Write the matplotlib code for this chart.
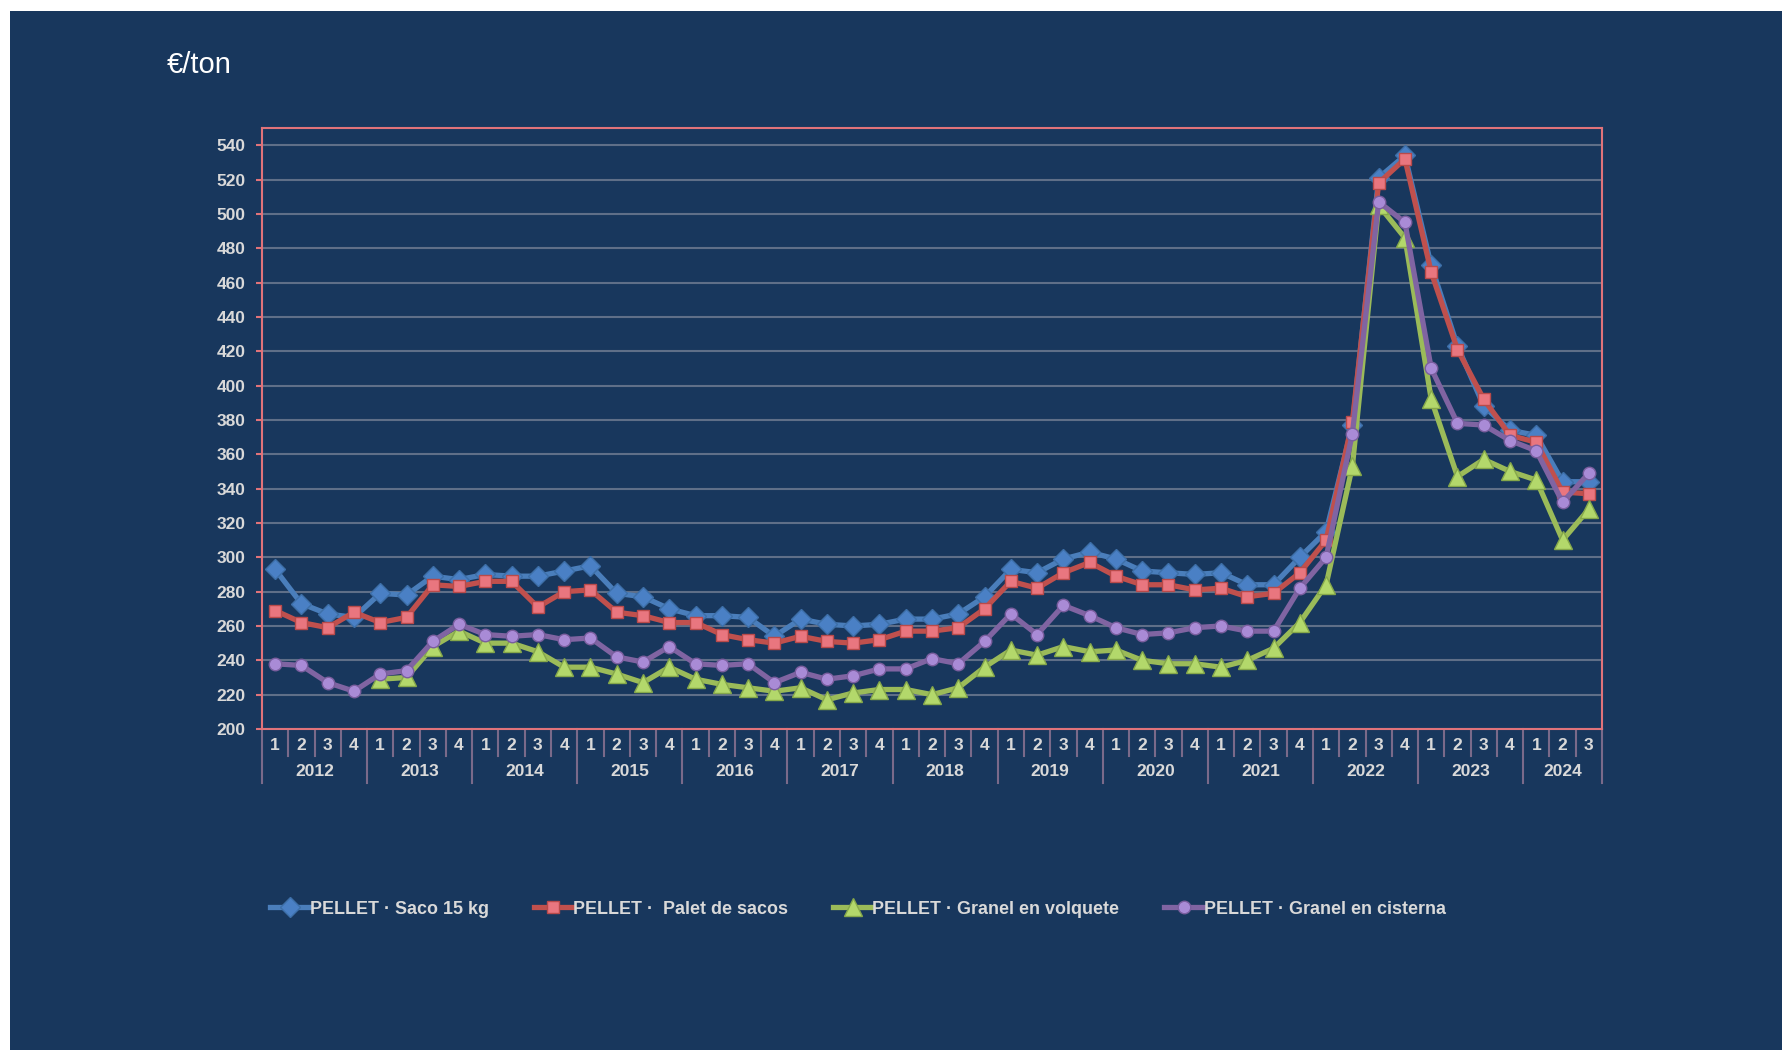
import numpy as np
import matplotlib
matplotlib.use("Agg")
import matplotlib.pyplot as plt
from matplotlib.patches import Rectangle
from matplotlib.transforms import blended_transform_factory

# quarterly pellet prices, 2012 Q1 .. 2024 Q3
years = ["2012", "2013", "2014", "2015", "2016", "2017", "2018",
         "2019", "2020", "2021", "2022", "2023", "2024"]
quarters = ["1", "2", "3", "4"] * 12 + ["1", "2", "3"]

saco = [293, 273, 267, 265,
        279, 278, 289, 287,
        290, 289, 289, 292,
        295, 279, 277, 270,
        266, 266, 265, 254,
        264, 261, 260, 261,
        264, 264, 267, 277,
        293, 291, 299, 303,
        299, 292, 291, 290,
        291, 284, 284, 300,
        315, 377, 521, 534,
        470, 423, 388, 374,
        371, 344, 344]

palet = [269, 262, 259, 268,
         262, 265, 284, 283,
         286, 286, 271, 280,
         281, 268, 266, 262,
         262, 255, 252, 250,
         254, 251, 250, 252,
         257, 257, 259, 270,
         286, 282, 291, 297,
         289, 284, 284, 281,
         282, 277, 279, 291,
         310, 379, 518, 532,
         466, 421, 392, 371,
         367, 338, 337]

volquete = [np.nan, np.nan, np.nan, np.nan,
            229, 230, 248, 257,
            250, 250, 245, 236,
            236, 232, 227, 236,
            229, 226, 224, 222,
            224, 217, 221, 223,
            223, 220, 224, 236,
            246, 243, 248, 245,
            246, 240, 238, 238,
            236, 240, 247, 262,
            284, 353, 505, 486,
            392, 347, 357, 350,
            345, 310, 328]

cisterna = [238, 237, 227, 222,
            232, 234, 251, 261,
            255, 254, 255, 252,
            253, 242, 239, 248,
            238, 237, 238, 227,
            233, 229, 231, 235,
            235, 241, 238, 251,
            267, 255, 272, 266,
            259, 255, 256, 259,
            260, 257, 257, 282,
            300, 372, 507, 495,
            410, 378, 377, 368,
            362, 332, 349]

labels = ["PELLET \u00b7 Saco 15 kg", "PELLET \u00b7  Palet de sacos",
          "PELLET \u00b7 Granel en volquete", "PELLET \u00b7 Granel en cisterna"]

NAVY = "#18375d"
PINK = "#e0737a"
GRID = "#5f6f88"
TXT = "#d9d9d9"
SEP = "#7a6a8a"

plt.rcParams["font.family"] = ["Liberation Sans", "DejaVu Sans"]

fig = plt.figure(figsize=(17.82, 10.5), dpi=100)
fig.patch.set_facecolor("white")
# navy panel, leaves a thin white strip at top and left
fig.add_artist(Rectangle((10 / 1782, 0), 1, 1 - 11 / 1050, transform=fig.transFigure,
                         facecolor=NAVY, edgecolor="none", zorder=-10))

ax = fig.add_axes([262 / 1782, 1 - 729 / 1050, (1602 - 262) / 1782, (729 - 128) / 1050])
ax.set_facecolor(NAVY)

x = np.arange(len(saco))

ax.plot(x, saco, color="#4a7ebb", lw=3.8, marker="D", ms=10.5,
        mfc="#4a80c5", mec="#3d6fa8", mew=1, label=labels[0], zorder=3)
ax.plot(x, palet, color="#c0504d", lw=3.8, marker="s", ms=8,
        mfc="#e9767f", mec="#b94a4a", mew=1, label=labels[1], zorder=4)
ax.plot(x, volquete, color="#9bbb59", lw=3.8, marker="^", ms=13,
        mfc="#b3d86b", mec="#86a84a", mew=1, label=labels[2], zorder=5)
ax.plot(x, cisterna, color="#8064a2", lw=3.8, marker="o", ms=9,
        mfc="#a98bd6", mec="#7a5e9e", mew=1, label=labels[3], zorder=6)

ax.set_xlim(-0.5, len(saco) - 0.5)
ax.set_ylim(200, 550)
ax.set_yticks(np.arange(200, 541, 20))
ax.yaxis.grid(True, color=GRID, lw=1.5)
ax.set_axisbelow(True)
ax.set_xticks([])
ax.tick_params(axis="y", colors=PINK, length=4, width=1.5, pad=8,
               labelcolor=TXT, labelsize=12.5)
for lab in ax.get_yticklabels():
    lab.set_fontweight("bold")
for sp in ax.spines.values():
    sp.set_color(PINK)
    sp.set_linewidth(1.5)

# two-level category axis: quarters and years
tr = blended_transform_factory(ax.transData, ax.transAxes)
for i, q in enumerate(quarters):
    ax.text(i, -0.0275, q, transform=tr, ha="center", va="center",
            color=TXT, fontsize=12.5, fontweight="bold")
for b in range(len(quarters) + 1):
    xb = b - 0.5
    if b % 4 == 0 or b == len(quarters):
        ax.plot([xb, xb], [0, -0.09], transform=tr, color=SEP, lw=1.5, clip_on=False)
    else:
        ax.plot([xb, xb], [-0.004, -0.045], transform=tr, color=SEP, lw=1.5, clip_on=False)
for k, yr in enumerate(years):
    start = 4 * k
    end = min(4 * k + 3, len(quarters) - 1)
    ax.text((start + end) / 2, -0.07, yr, transform=tr, ha="center", va="center",
            color=TXT, fontsize=12.5, fontweight="bold")

fig.text(167 / 1782, 1 - 65 / 1050, "\u20ac/ton", ha="left", va="center", color="white",
         fontsize=21, family=["Liberation Sans", "DejaVu Sans"])

leg = fig.legend(loc="center", bbox_to_anchor=(858 / 1782, 1 - 909 / 1050), ncol=4,
                 frameon=False, handlelength=2.2, handletextpad=0.0, columnspacing=2.5,
                 prop={"weight": "bold", "size": 12.9})
for t in leg.get_texts():
    t.set_color(TXT)

fig.savefig("out.png", dpi=100, facecolor=fig.get_facecolor())
